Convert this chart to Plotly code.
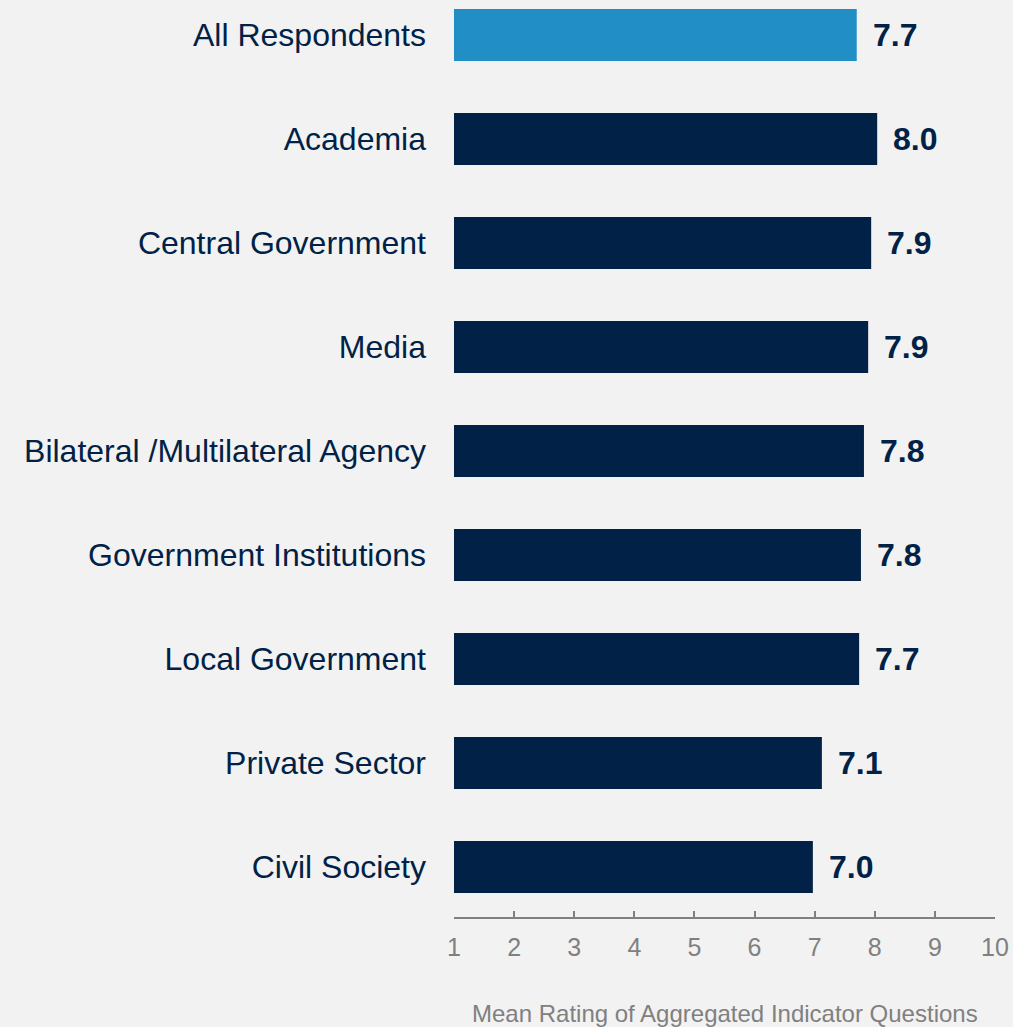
import plotly.graph_objects as go

categories = ["All Respondents", "Academia", "Central Government", "Media",
              "Bilateral /Multilateral Agency", "Government Institutions",
              "Local Government", "Private Sector", "Civil Society"]
values = [7.70, 8.04, 7.94, 7.89, 7.82, 7.77, 7.74, 7.12, 6.97]
value_labels = ["7.7", "8.0", "7.9", "7.9", "7.8", "7.8", "7.7", "7.1", "7.0"]
x_ticks = [1, 2, 3, 4, 5, 6, 7, 8, 9, 10]
axis_min = 1

NAVY = "#012246"
BLUE = "#218FC6"
GRAY = "#808080"
BG = "#F2F2F2"

colors = [BLUE] + [NAVY] * (len(categories) - 1)

fig = go.Figure()
fig.add_trace(go.Bar(
    y=categories,
    x=[v - axis_min for v in values],
    base=axis_min,
    orientation="h",
    marker=dict(color=colors, line=dict(width=0)),
    width=0.5,
    hoverinfo="skip",
))

for c, v, t in zip(categories, values, value_labels):
    fig.add_annotation(x=v, y=c, text=f"<b>{t}</b>", showarrow=False,
                       xanchor="left", yanchor="middle", xshift=14, yshift=0,
                       font=dict(family="Liberation Sans, Arial", size=32, color=NAVY))

fig.add_annotation(x=0.5, y=0, xref="paper", yref="paper",
                   text="Mean Rating of Aggregated Indicator Questions",
                   showarrow=False, xanchor="center", yanchor="middle", yshift=-96,
                   font=dict(family="Liberation Sans, Arial", size=24, color=GRAY))

fig.update_layout(
    width=1013, height=1027,
    margin=dict(l=454, r=18, t=0, b=110),
    paper_bgcolor=BG, plot_bgcolor=BG,
    showlegend=False,
    font=dict(family="Liberation Sans, Arial"),
    xaxis=dict(
        range=[1, 10], tickvals=x_ticks, showgrid=False, zeroline=False,
        showline=True, linecolor=GRAY, linewidth=2,
        ticks="inside", ticklen=6, tickwidth=2, tickcolor=GRAY,
        tickfont=dict(size=25, color=GRAY), ticklabelstandoff=7,
    ),
    yaxis=dict(
        type="category", categoryorder="array", categoryarray=categories,
        range=[8.481, -0.3365], showgrid=False, zeroline=False, showline=False,
        ticks="", tickfont=dict(size=32, color=NAVY), ticklabelstandoff=27,
    ),
)

fig.write_html("out.html", config={"displayModeBar": False},
               post_script="document.body.style.margin='0';document.body.style.overflow='hidden';")
